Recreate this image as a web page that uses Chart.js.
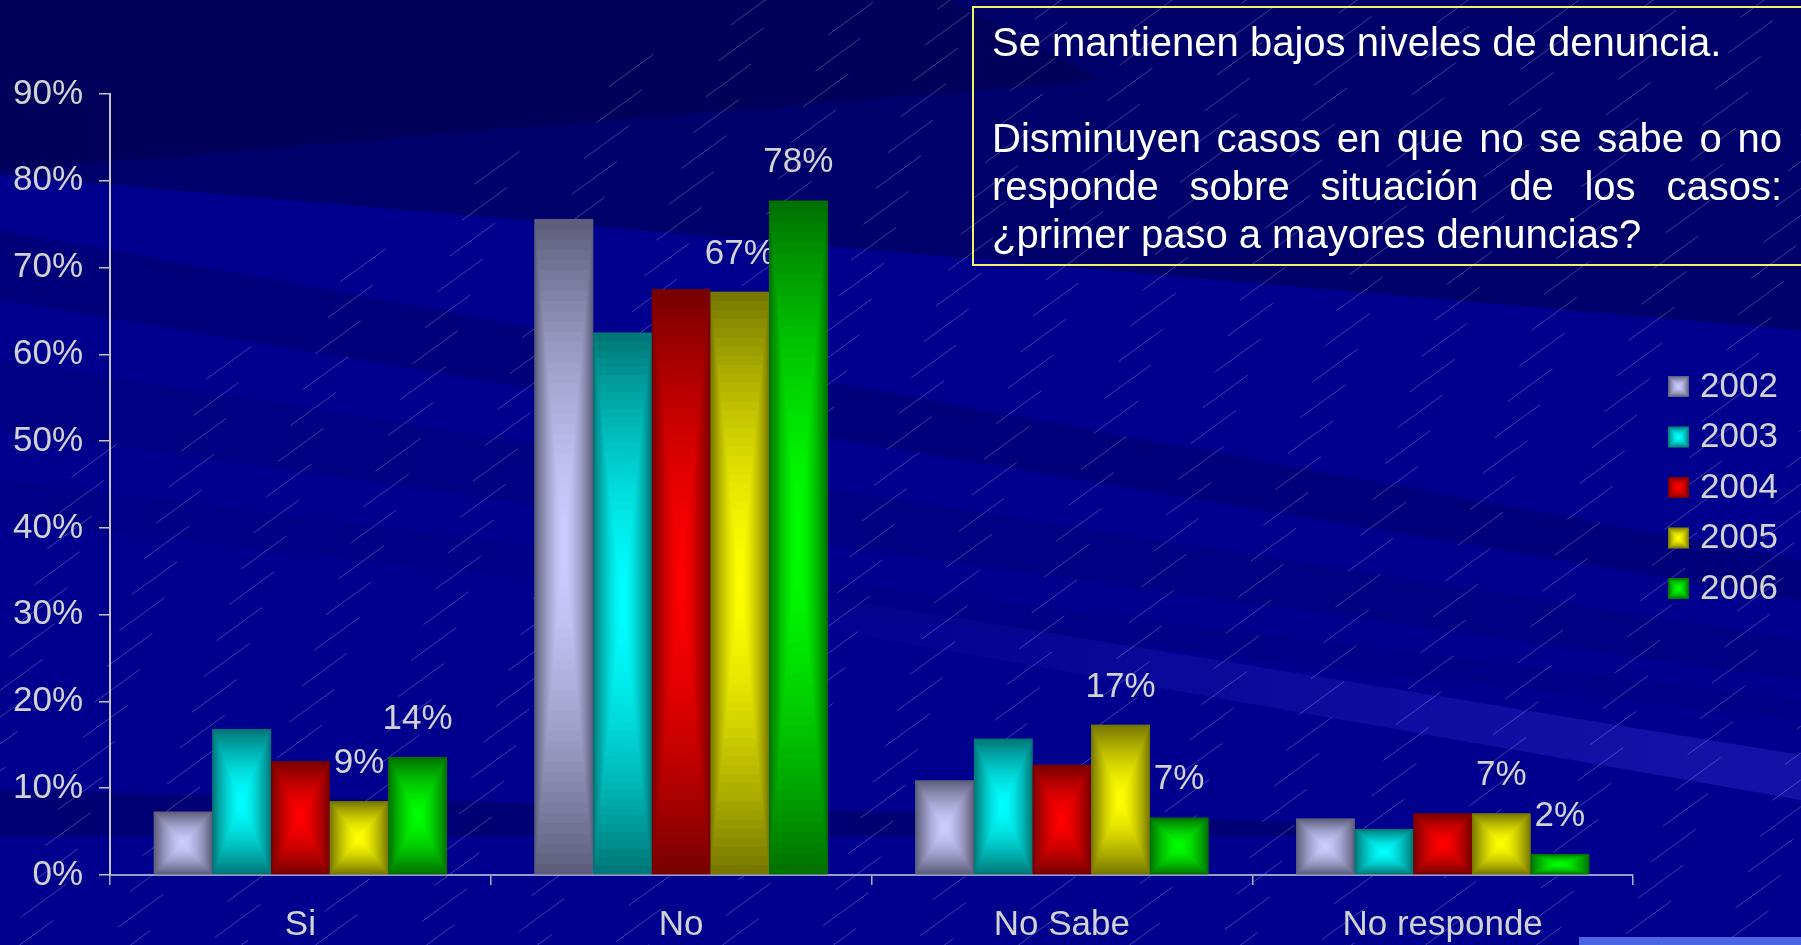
<!DOCTYPE html>
<html>
<head>
<meta charset="utf-8">
<title>Denuncias</title>
<script src="https://cdn.jsdelivr.net/npm/chart.js@4.4.1/dist/chart.umd.min.js"></script>
<style>
  html, body { margin: 0; padding: 0; }
  body { width: 1801px; height: 945px; overflow: hidden; position: relative; background: #00008c; }
  #wrap { position: absolute; left: 0; top: 0; width: 1801px; height: 945px; }
  #note {
    position: absolute; left: 972px; top: 6px; width: 790px;
    padding: 10px 21px 6px 18px;
    border: 2px solid #f2f266;
    color: #ffffff;
    font-family: "Liberation Sans", Arial, sans-serif;
    font-size: 40px; line-height: 48px;
    text-align: justify;
  }
  #strip { position: absolute; left: 1579px; top: 937px; width: 222px; height: 8px; background: #4a66e6; }
</style>
</head>
<body>
<div id="wrap"><canvas id="chart"></canvas></div>
<div id="note">Se mantienen bajos niveles de denuncia.<br><br>Disminuyen casos en que no se sabe o no responde sobre situación de los casos: ¿primer paso a mayores denuncias?</div>
<div id="strip"></div>
<script>
const categories = ['Si', 'No', 'No Sabe', 'No responde'];
const years = ['2002', '2003', '2004', '2005', '2006'];
const values2002 = [7.3, 75.6, 10.9, 6.5];
const values2003 = [16.8, 62.5, 15.7, 5.3];
const values2004 = [13.1, 67.5, 12.7, 7.1];
const values2005 = [8.5, 67.2, 17.3, 7.1];
const values2006 = [13.6, 77.7, 6.6, 2.4];
const labelledYears = ['2005', '2006'];
const yMax = 90;
const yStep = 10;

const FONT = '"Liberation Sans", Arial, sans-serif';
const edgeColors = ['#5e5e7c', '#007878', '#780000', '#787800', '#007200'];
const centerColors = ['#ccccff', '#00ffff', '#ff0000', '#ffff00', '#00ff00'];
const textGray = '#d2d2d2';

function hexToRgb(h) {
  const n = parseInt(h.slice(1), 16);
  return [(n >> 16) & 255, (n >> 8) & 255, n & 255];
}

function mix(a, b, t) {
  const ca = hexToRgb(a), cb = hexToRgb(b);
  const c = ca.map((v, i) => Math.round(v + (cb[i] - v) * t));
  return 'rgb(' + c.join(',') + ')';
}

// rectangular "from centre" shading like the old office 3D bars
function bevel(ctx, left, top, right, bottom, i) {
  const cx = (left + right) / 2, cy = (top + bottom) / 2;
  const hw = (right - left) / 2, hh = (bottom - top) / 2;
  const steps = 32;
  for (let k = 0; k < steps; k++) {
    const t = 1 - k / steps;
    ctx.fillStyle = mix(edgeColors[i], centerColors[i], 1 - Math.pow(t, 1.6));
    ctx.fillRect(cx - hw * t, cy - hh * t, 2 * hw * t, 2 * hh * t);
  }
}

const backdrop = {
  id: 'backdrop',
  beforeDraw(chart) {
    const ctx = chart.ctx;
    const W = chart.width, H = chart.height;
    ctx.save();
    ctx.fillStyle = '#00008e';
    ctx.fillRect(0, 0, W, H);

    function poly(pts, color) {
      ctx.fillStyle = color;
      ctx.beginPath();
      pts.forEach((p, k) => k ? ctx.lineTo(p[0], p[1]) : ctx.moveTo(p[0], p[1]));
      ctx.closePath();
      ctx.fill();
    }
    poly([[0, 0], [W, 0], [W, 330], [0, 175]], '#00006a');
    poly([[0, 0], [950, 0], [1100, 80], [0, 170]], '#00005a');
    poly([[0, 230], [W, 560], [W, 600], [0, 300]], '#00007a');
    poly([[0, 360], [W, 640], [W, 680], [0, 430]], '#000082');
    poly([[0, 480], [W, 700], [W, 720], [0, 520]], '#000086');
    const glow = ctx.createLinearGradient(700, 0, 1700, 0);
    glow.addColorStop(0, 'rgba(40,40,200,0)');
    glow.addColorStop(1, 'rgba(40,40,200,0.45)');
    poly([[600, 560], [W, 755], [W, 800], [600, 590]], glow);
    poly([[0, 790], [1300, 822], [1300, 836], [0, 836]], '#000074');

    // faint diagonal dashes
    ctx.strokeStyle = 'rgba(190,190,235,0.32)';
    ctx.lineWidth = 1;
    ctx.setLineDash([56, 110]);
    const ang = 36 * Math.PI / 180;
    const dx = Math.cos(ang), dy = -Math.sin(ang);
    for (let k = 0; k < 110; k++) {
      const x0 = -600 + k * 37;
      ctx.lineDashOffset = (k * 61) % 166;
      ctx.beginPath();
      ctx.moveTo(x0, H + 20);
      ctx.lineTo(x0 + dx * 2000, H + 20 + dy * 2000);
      ctx.stroke();
    }
    ctx.restore();
  }
};

const barLook = {
  id: 'barLook',
  afterDatasetsDraw(chart) {
    const ctx = chart.ctx;
    ctx.save();
    chart.data.datasets.forEach((ds, i) => {
      const meta = chart.getDatasetMeta(i);
      meta.data.forEach((bar, j) => {
        const p = bar.getProps(['x', 'y', 'base', 'width'], true);
        bevel(ctx, p.x - p.width / 2, p.y, p.x + p.width / 2, p.base, i);
        if (labelledYears.includes(ds.label)) {
          ctx.fillStyle = textGray;
          ctx.font = '35px ' + FONT;
          ctx.textAlign = 'center';
          ctx.textBaseline = 'middle';
          ctx.fillText(Math.round(ds.data[j]) + '%', p.x, p.y - 38);
        }
      });
    });
    ctx.restore();
  }
};

const sideLegend = {
  id: 'sideLegend',
  afterDraw(chart) {
    const ctx = chart.ctx;
    const area = chart.chartArea;
    const x = area.right + 35;
    const mid = (area.top + area.bottom) / 2 + 2.5;
    ctx.save();
    ctx.font = '35px ' + FONT;
    ctx.textBaseline = 'middle';
    ctx.textAlign = 'left';
    chart.data.datasets.forEach((ds, i) => {
      const y = mid + (i - 2) * 50.5;
      bevel(ctx, x, y - 10, x + 21, y + 11, i);
      ctx.fillStyle = textGray;
      ctx.fillText(ds.label, x + 32, y + 1);
    });
    ctx.restore();
  }
};

const seriesValues = [values2002, values2003, values2004, values2005, values2006];

new Chart(document.getElementById('chart'), {
  type: 'bar',
  data: {
    labels: categories,
    datasets: years.map((y, i) => ({
      label: y,
      data: seriesValues[i],
      backgroundColor: edgeColors[i],
      borderWidth: 0,
      barPercentage: 1.0,
      categoryPercentage: 0.77
    }))
  },
  options: {
    responsive: true,
    maintainAspectRatio: false,
    animation: false,
    layout: { padding: { top: 94, right: 168, left: 0, bottom: 0 } },
    plugins: {
      legend: { display: false },
      tooltip: { enabled: false }
    },
    scales: {
      x: {
        afterFit(scale) { scale.height = 70; },
        border: { color: '#9a9acc', width: 2 },
        grid: { drawOnChartArea: false, drawTicks: true, tickLength: 10, tickColor: '#b0b0d0', lineWidth: 1.5 },
        ticks: { color: textGray, font: { family: FONT, size: 35 }, padding: 19 }
      },
      y: {
        min: 0,
        max: yMax,
        afterFit(scale) { scale.width = 110; },
        border: { color: '#c4c4c4', width: 2 },
        grid: { drawOnChartArea: false, drawTicks: true, tickLength: 11, tickColor: '#c4c4c4', lineWidth: 1.5 },
        ticks: {
          stepSize: yStep,
          color: textGray,
          font: { family: FONT, size: 35 },
          padding: 16,
          callback: v => v + '%'
        }
      }
    }
  },
  plugins: [backdrop, barLook, sideLegend]
});
</script>
</body>
</html>
